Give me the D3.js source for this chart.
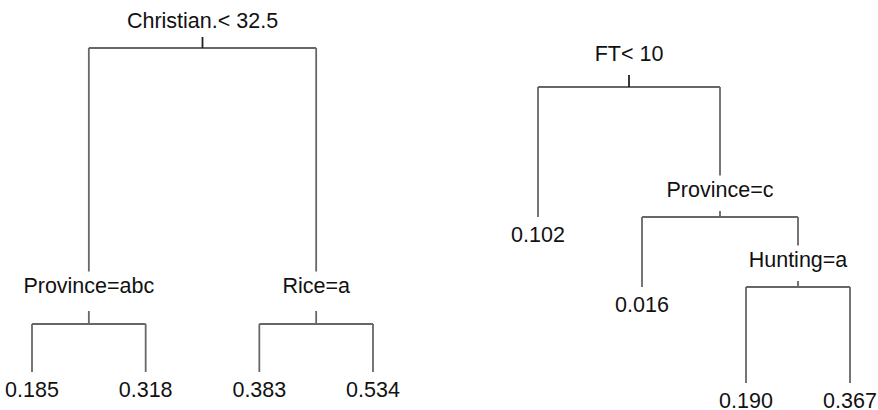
<!DOCTYPE html>
<html>
<head>
<meta charset="utf-8">
<script src="https://cdn.jsdelivr.net/npm/d3@7"></script>
<style>
  html, body { margin: 0; padding: 0; background: #fff; }
  svg { display: block; }
</style>
</head>
<body>
<svg id="chart" width="878" height="410"></svg>
<script>
// ---- Regression tree 1: split on Christian ----
// nodes use heap numbering: children of n are 2n and 2n+1
const leftSplitIds = [1, 2, 3];
const leftSplitLabels = ["Christian.< 32.5", "Province=abc", "Rice=a"];
const leftSplitGain = [2.30, 0.40, 0.40];
const leftLeafIds = [4, 5, 6, 7];
const leftLeafValues = ["0.185", "0.318", "0.383", "0.534"];

// ---- Regression tree 2: split on FT ----
const rightSplitIds = [1, 3, 7];
const rightSplitLabels = ["FT< 10", "Province=c", "Hunting=a"];
const rightSplitGain = [1.30, 0.70, 0.96];
const rightLeafIds = [2, 6, 14, 15];
const rightLeafValues = ["0.102", "0.016", "0.190", "0.367"];

// panel geometry and label placement
const panels = [
  {
    splits: { ids: leftSplitIds, labels: leftSplitLabels, gain: leftSplitGain },
    leaves: { ids: leftLeafIds, values: leftLeafValues },
    xRange: [32, 373], yRange: [48, 372],
    rootLift: 20, rootTick: 11, splitLift: 31.5, splitTick: 13
  },
  {
    splits: { ids: rightSplitIds, labels: rightSplitLabels, gain: rightSplitGain },
    leaves: { ids: rightLeafIds, values: rightLeafValues },
    xRange: [538, 850], yRange: [87, 383],
    rootLift: 26, rootTick: 12, splitLift: 20.5, splitTick: 6
  }
];

const FONT = "'Liberation Sans', Arial, Helvetica, sans-serif";
const FONT_SIZE = 21.5;
const LINE_COLOR = "#676767";
const TEXT_COLOR = "#111";

const svg = d3.select("#chart");

function buildTree(p) {
  const nodes = new Map();
  p.splits.ids.forEach((id, i) => nodes.set(id, {
    id, leaf: false, label: p.splits.labels[i], gain: p.splits.gain[i]
  }));
  p.leaves.ids.forEach((id, i) => nodes.set(id, {
    id, leaf: true, label: p.leaves.values[i], gain: 0
  }));
  nodes.forEach(n => {
    if (!n.leaf) {
      n.left = nodes.get(n.id * 2);
      n.right = nodes.get(n.id * 2 + 1);
    }
  });
  return nodes.get(1);
}

function drawPanel(p) {
  const root = buildTree(p);

  // depth along the tree = accumulated split gain from the root
  const order = [];
  (function walk(n, depth) {
    n.depth = depth;
    if (n.leaf) { order.push(n); return; }
    walk(n.left, depth + n.gain);
    walk(n.right, depth + n.gain);
  })(root, 0);

  const maxDepth = d3.max(order, d => d.depth);
  const x = d3.scaleLinear().domain([0, order.length - 1]).range(p.xRange);
  const y = d3.scaleLinear().domain([0, maxDepth]).range(p.yRange);

  order.forEach((n, i) => { n.x = x(i); });
  (function place(n) {
    n.y = y(n.depth);
    if (n.leaf) return;
    place(n.left); place(n.right);
    n.x = (n.left.x + n.right.x) / 2;
  })(root);

  const internal = [];
  (function collect(n) {
    if (n.leaf) return;
    internal.push(n); collect(n.left); collect(n.right);
  })(root);

  const g = svg.append("g");
  const gapAbove = p.splitLift + 21;

  internal.forEach(n => {
    // cross bar joining the two children
    g.append("line")
      .attr("x1", n.left.x).attr("x2", n.right.x)
      .attr("y1", n.y).attr("y2", n.y)
      .attr("stroke", LINE_COLOR).attr("stroke-width", 1.8);

    // branches down to each child, stopping short of a split label
    [n.left, n.right].forEach(c => {
      const end = c.leaf ? c.y : c.y - gapAbove;
      g.append("line")
        .attr("x1", c.x).attr("x2", c.x)
        .attr("y1", n.y).attr("y2", end)
        .attr("stroke", LINE_COLOR).attr("stroke-width", 1.8);
    });

    const isRoot = n === root;
    const tick = isRoot ? p.rootTick : p.splitTick;
    g.append("line")
      .attr("x1", n.x).attr("x2", n.x)
      .attr("y1", n.y - tick).attr("y2", n.y)
      .attr("stroke", isRoot ? "#222" : LINE_COLOR)
      .attr("stroke-width", 1.8);

    g.append("text")
      .attr("x", n.x)
      .attr("y", n.y - (isRoot ? p.rootLift : p.splitLift))
      .attr("text-anchor", "middle")
      .attr("font-family", FONT)
      .attr("font-size", FONT_SIZE)
      .attr("fill", TEXT_COLOR)
      .text(n.label);
  });

  // fitted values at the terminal nodes
  g.selectAll("text.leaf")
    .data(order)
    .join("text")
    .attr("class", "leaf")
    .attr("x", d => d.x)
    .attr("y", d => d.y + 24.5)
    .attr("text-anchor", "middle")
    .attr("font-family", FONT)
    .attr("font-size", FONT_SIZE)
    .attr("fill", TEXT_COLOR)
    .text(d => d.label);
}

panels.forEach(drawPanel);
</script>
</body>
</html>
